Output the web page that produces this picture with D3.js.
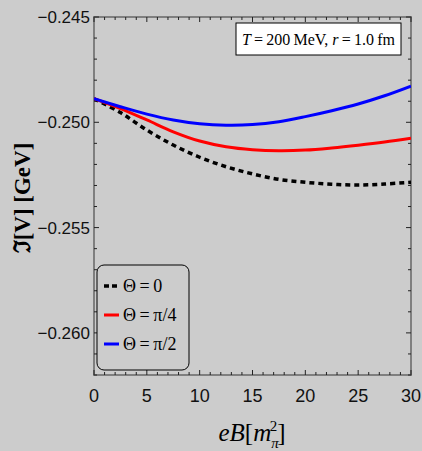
<!DOCTYPE html>
<html>
<head>
<meta charset="utf-8">
<script src="https://cdn.jsdelivr.net/npm/d3@7"></script>
<style>
  body { margin: 0; background: #cccccc; }
  svg { display: block; }
</style>
</head>
<body>
<script>
// values
var eB = [0, 2.5, 5, 7.5, 10, 12.5, 15, 17.5, 20, 22.5, 25, 27.5, 30];
var theta0 = [-0.24888, -0.24954, -0.25037, -0.25108, -0.25166, -0.25211, -0.25245, -0.25271, -0.25285, -0.25294, -0.25298, -0.25293, -0.25285];
var thetaPi4 = [-0.24888, -0.24935, -0.24989, -0.25045, -0.25089, -0.25116, -0.25130, -0.25135, -0.25132, -0.25122, -0.25109, -0.25094, -0.25076];
var thetaPi2 = [-0.24888, -0.24926, -0.24961, -0.24989, -0.25007, -0.25014, -0.25011, -0.24997, -0.24973, -0.24945, -0.24913, -0.24874, -0.24828];
var seriesNames = ["\u0398\u2009=\u20090", "\u0398\u2009=\u2009\u03c0/4", "\u0398\u2009=\u2009\u03c0/2"];
var xTicks = [0, 5, 10, 15, 20, 25, 30];
var yTicks = [-0.245, -0.250, -0.255, -0.260];

var W = 422, H = 451;
var svg = d3.select("body").append("svg").attr("width", W).attr("height", H);

var x = d3.scaleLinear().domain([0, 30]).range([94, 411]);
var y = d3.scaleLinear().domain([-0.262, -0.245]).range([375, 17]);

// minor ticks
var xMinor = d3.range(0, 30.01, 1);
var yMinor = d3.range(-0.262, -0.2449, 0.001);

var g = svg.append("g");

// frame
g.append("rect")
  .attr("x", x(0)).attr("y", y(-0.245))
  .attr("width", x(30) - x(0)).attr("height", y(-0.262) - y(-0.245))
  .attr("fill", "none").attr("stroke", "#7f7f7f").attr("stroke-width", 2);

function tickLen(v, majors) {
  return majors.some(function(m){ return Math.abs(m - v) < 1e-6; }) ? 5 : 3;
}

// x ticks, bottom and top, pointing in
xMinor.forEach(function(v){
  var l = tickLen(v, xTicks);
  g.append("line").attr("x1", x(v)).attr("x2", x(v)).attr("y1", 375).attr("y2", 375 - l)
    .attr("stroke", "#222").attr("stroke-width", 1);
  g.append("line").attr("x1", x(v)).attr("x2", x(v)).attr("y1", 17).attr("y2", 17 + l)
    .attr("stroke", "#222").attr("stroke-width", 1);
});
yMinor.forEach(function(v){
  var l = tickLen(v, yTicks);
  g.append("line").attr("x1", 94).attr("x2", 94 + l).attr("y1", y(v)).attr("y2", y(v))
    .attr("stroke", "#222").attr("stroke-width", 1);
  g.append("line").attr("x1", 411).attr("x2", 411 - l).attr("y1", y(v)).attr("y2", y(v))
    .attr("stroke", "#222").attr("stroke-width", 1);
});

// tick labels
g.selectAll(".xl").data(xTicks).enter().append("text")
  .attr("x", function(d){ return x(d); }).attr("y", 402)
  .attr("text-anchor", "middle")
  .style("font-family", "Liberation Sans, Arial, sans-serif").style("font-size", "18px")
  .attr("fill", "#111")
  .text(function(d){ return d; });

g.selectAll(".yl").data(yTicks).enter().append("text")
  .attr("x", 90).attr("y", function(d){ return y(d) + 6; })
  .attr("text-anchor", "end")
  .style("font-family", "Liberation Sans, Arial, sans-serif").style("font-size", "17px")
  .attr("fill", "#111")
  .text(function(d){ return "\u2212" + Math.abs(d).toFixed(3); });

// curves
var line = d3.line()
  .x(function(d){ return x(d[0]); })
  .y(function(d){ return y(d[1]); })
  .curve(d3.curveCatmullRom);

var clip = svg.append("clipPath").attr("id", "clip").append("rect")
  .attr("x", 94).attr("y", 17).attr("width", 317).attr("height", 358);

var series = [
  { vals: theta0, color: "#000000", dash: "5,4", width: 3.5 },
  { vals: thetaPi4, color: "#ff0000", dash: null, width: 3 },
  { vals: thetaPi2, color: "#0000ff", dash: null, width: 3 }
];

series.forEach(function(s){
  svg.append("path")
    .datum(eB.map(function(v, i){ return [v, s.vals[i]]; }))
    .attr("d", line)
    .attr("clip-path", "url(#clip)")
    .attr("fill", "none")
    .attr("stroke", s.color)
    .attr("stroke-width", s.width)
    .attr("stroke-dasharray", s.dash);
});

// parameter box
svg.append("rect").attr("x", 236).attr("y", 23).attr("width", 165).attr("height", 32)
  .attr("fill", "#ffffff").attr("stroke", "#000").attr("stroke-width", 1);
var pt = svg.append("text").attr("x", 318.5).attr("y", 45).attr("text-anchor", "middle")
  .style("font-family", "Liberation Serif, Times New Roman, serif").style("font-size", "16px");
pt.append("tspan").style("font-style", "italic").text("T");
pt.append("tspan").text("\u2009=\u2009200\u2009MeV, ");
pt.append("tspan").style("font-style", "italic").text("r");
pt.append("tspan").text("\u2009=\u20091.0\u2009fm");

// legend
svg.append("rect").attr("x", 97).attr("y", 265).attr("width", 92).attr("height", 105)
  .attr("rx", 7).attr("ry", 7)
  .attr("fill", "#cccccc").attr("stroke", "#000").attr("stroke-width", 1);
series.forEach(function(s, i){
  var ly = 286 + i * 29;
  svg.append("line").attr("x1", 104).attr("x2", 119).attr("y1", ly).attr("y2", ly)
    .attr("stroke", s.color).attr("stroke-width", s.width)
    .attr("stroke-dasharray", s.dash ? "5,3" : null);
  svg.append("text").attr("x", 123).attr("y", ly + 6)
    .style("font-family", "Liberation Serif, Times New Roman, serif").style("font-size", "18px")
    .text(seriesNames[i]);
});

// axis titles
var xt = svg.append("text").attr("x", 252).attr("y", 441).attr("text-anchor", "middle")
  .style("font-family", "Liberation Serif, Times New Roman, serif").style("font-size", "25px")
  .style("font-style", "italic");
xt.append("tspan").text("eB");
xt.append("tspan").style("font-style", "normal").text("[");
xt.append("tspan").text("m");
xt.append("tspan").attr("dy", 7).attr("font-size", "15px").text("\u03c0");
xt.append("tspan").attr("dx", -9).attr("dy", -17).attr("font-size", "15px").style("font-style", "normal").text("2");
xt.append("tspan").attr("dy", 10).style("font-style", "normal").text("]");

svg.append("text")
  .attr("transform", "translate(30,198) rotate(-90)")
  .attr("text-anchor", "middle")
  .style("font-family", "Liberation Serif, DejaVu Serif, serif").style("font-size", "23px")
  .style("font-weight", "bold")
  .text("\u2111[V] [GeV]");
</script>
</body>
</html>
